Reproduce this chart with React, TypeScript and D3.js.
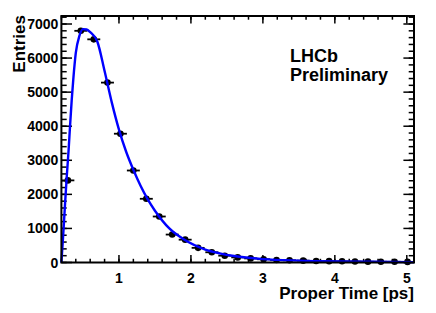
import { useMemo } from "react";
import * as d3 from "d3";

// histogram: bin centres [ps] and entries
const binCenters = [
  0.29, 0.47, 0.65, 0.84, 1.02, 1.2, 1.38, 1.56, 1.74, 1.92, 2.1, 2.29, 2.47,
  2.65, 2.83, 3.01, 3.19, 3.37, 3.56, 3.74, 3.92, 4.1, 4.28, 4.46, 4.64, 4.83,
  5.01,
];
const entries = [
  2410, 6800, 6550, 5280, 3780, 2700, 1870, 1350, 820, 670, 430, 300, 200, 150,
  120, 95, 75, 65, 55, 45, 40, 35, 30, 25, 22, 20, 18,
];
const binHalfWidth = 0.09;

// fitted curve
const fitTime = [
  0.2, 0.226, 0.25, 0.274, 0.3, 0.32, 0.343, 0.365, 0.4, 0.45, 0.5, 0.55, 0.6,
  0.7, 0.8, 0.9, 1.0, 1.1, 1.2, 1.3, 1.4, 1.5, 1.7, 1.9, 2.2, 2.4, 2.6, 3.0,
  3.5, 4.0, 4.5, 5.1,
];
const fitValue = [
  0, 840, 1700, 2510, 3300, 4000, 4760, 5370, 6150, 6650, 6850, 6840, 6760,
  6480, 5620, 4700, 3900, 3250, 2720, 2250, 1850, 1520, 1000, 680, 380, 270,
  190, 100, 55, 32, 20, 12,
];

const xMajorTicks = [1, 2, 3, 4, 5];
const yMajorTicks = [0, 1000, 2000, 3000, 4000, 5000, 6000, 7000];

const W = 436;
const H = 313;
const margin = { top: 16, right: 22, bottom: 50.5, left: 61.4 };
const font = "'Liberation Sans', Arial, Helvetica, sans-serif";

export default function App() {
  const innerW = W - margin.left - margin.right;
  const innerH = H - margin.top - margin.bottom;

  const x = d3.scaleLinear().domain([0.2, 5.1]).range([0, innerW]);
  const y = d3.scaleLinear().domain([0, 7235]).range([innerH, 0]);

  const xMinor = useMemo(() => d3.range(0.2, 5.1, 0.2), []);
  const yMinor = useMemo(() => d3.range(0, 7235, 200), []);

  const line = d3
    .line<number>()
    .x((_, i) => x(fitTime[i]))
    .y((d) => y(d))
    .curve(d3.curveMonotoneX);

  const xMajLen = 7.4;
  const yMajLen = 10.6;

  return (
    <svg
      width={W}
      height={H}
      style={{ position: "absolute", left: 0, top: 0, background: "#fff" }}
      fontFamily={font}
      fontWeight="bold"
    >
      <g transform={`translate(${margin.left},${margin.top})`}>
        {/* ticks: bottom & top */}
        {xMinor.map((t) => (
          <g key={`xm${t}`} stroke="#000" strokeWidth={1.5}>
            <line x1={x(t)} x2={x(t)} y1={innerH} y2={innerH - xMajLen / 2} />
            <line x1={x(t)} x2={x(t)} y1={0} y2={xMajLen / 2} />
          </g>
        ))}
        {xMajorTicks.map((t) => (
          <g key={`xM${t}`}>
            <line x1={x(t)} x2={x(t)} y1={innerH} y2={innerH - xMajLen} stroke="#000" strokeWidth={1.5} />
            <line x1={x(t)} x2={x(t)} y1={0} y2={xMajLen} stroke="#000" strokeWidth={1.5} />
            <text x={x(t)} y={innerH + 20} textAnchor="middle" fontSize={14}>
              {t}
            </text>
          </g>
        ))}
        {/* ticks: left & right */}
        {yMinor.map((t) => (
          <g key={`ym${t}`} stroke="#000" strokeWidth={1.5}>
            <line x1={0} x2={yMajLen / 2} y1={y(t)} y2={y(t)} />
            <line x1={innerW} x2={innerW - yMajLen / 2} y1={y(t)} y2={y(t)} />
          </g>
        ))}
        {yMajorTicks.map((t) => (
          <g key={`yM${t}`}>
            <line x1={0} x2={yMajLen} y1={y(t)} y2={y(t)} stroke="#000" strokeWidth={1.5} />
            <line x1={innerW} x2={innerW - yMajLen} y1={y(t)} y2={y(t)} stroke="#000" strokeWidth={1.5} />
            <text x={-3} y={y(t)} dy="0.36em" textAnchor="end" fontSize={14}>
              {t}
            </text>
          </g>
        ))}

        {/* data points */}
        {entries.map((v, i) => (
          <g key={`p${i}`}>
            <line
              x1={x(binCenters[i] - binHalfWidth)}
              x2={x(binCenters[i] + binHalfWidth)}
              y1={y(v)}
              y2={y(v)}
              stroke="#000"
              strokeWidth={1.8}
            />
            <circle cx={x(binCenters[i])} cy={y(v)} r={3.3} fill="#000" />
          </g>
        ))}

        {/* fit */}
        <path d={line(fitValue) ?? ""} fill="none" stroke="#0000ff" strokeWidth={2.4} />

        {/* frame */}
        <rect x={0} y={0} width={innerW} height={innerH} fill="none" stroke="#000" strokeWidth={2} />

        <text x={228.6} y={45.7} fontSize={18}>
          LHCb
        </text>
        <text x={228.6} y={64.7} fontSize={18}>
          Preliminary
        </text>
      </g>

      <text x={414} y={299} textAnchor="end" fontSize={17}>
        Proper Time [ps]
      </text>
      <text
        transform="translate(25,15) rotate(-90)"
        textAnchor="end"
        fontSize={17}
      >
        Entries
      </text>
    </svg>
  );
}
